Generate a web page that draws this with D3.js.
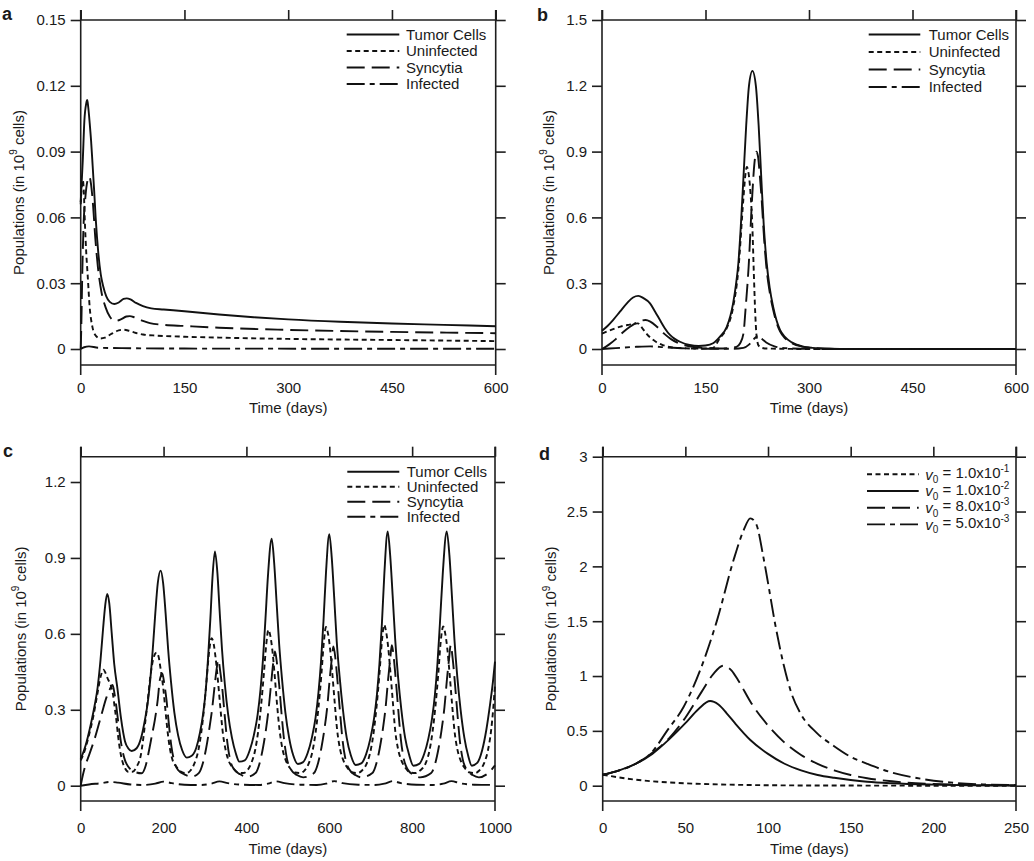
<!DOCTYPE html>
<html><head><meta charset="utf-8">
<script src="https://cdn.jsdelivr.net/npm/d3@7"></script>
<style>
body{margin:0;background:#fff}
svg{display:block}
text{font-family:"Liberation Sans",Arial,Helvetica,sans-serif;fill:#1a1a1a}
</style>
</head><body>
<svg id="chart" width="1034" height="861"></svg>
<script>
// ---------------- DATA ----------------
const seriesNames = ["Tumor Cells","Uninfected","Syncytia","Infected"];
const v0Mantissa = ["1.0","1.0","8.0","5.0"];
const v0Exponent = ["-1","-2","-3","-3"];

const aXTicks = [0,150,300,450,600];
const aYTicks = [0,0.03,0.06,0.09,0.12,0.15];
const aYLabels = ["0","0.03","0.06","0.09","0.12","0.15"];
const aTumor = [[0,0.067],[3,0.086],[5.3,0.104],[8,0.112],[9.5,0.1135],[11,0.110],[13,0.103],[15,0.095],[17,0.085],[19.5,0.072],[21.6,0.06],[25.5,0.0436],[29,0.034],[32.7,0.0284],[37,0.024],[42,0.0215],[48.6,0.0205],[55,0.0212],[62,0.0228],[66.5,0.0231],[72,0.0226],[80,0.021],[90,0.0195],[102,0.0185],[120,0.018],[150,0.0172],[200,0.0157],[250,0.0145],[300,0.0135],[375,0.0124],[450,0.0116],[525,0.011],[600,0.0104]];
const aUninf = [[0,0.066],[1.5,0.074],[3,0.077],[4.5,0.072],[6,0.058],[8,0.044],[10,0.034],[13,0.019],[17,0.01],[22,0.006],[28,0.0048],[35,0.0052],[45,0.007],[55,0.0085],[62,0.0088],[70,0.0083],[80,0.0073],[90,0.0066],[110,0.0061],[150,0.0056],[200,0.0052],[300,0.0046],[450,0.0041],[600,0.0036]];
const aSync = [[0,0],[1,0.012],[2,0.03],[4,0.055],[7,0.07],[10,0.077],[12.5,0.0786],[15,0.075],[18,0.065],[21,0.051],[25,0.037],[30,0.026],[36,0.019],[42,0.0148],[50,0.0128],[58,0.0135],[66,0.0148],[71,0.015],[78,0.0144],[90,0.0128],[100,0.0118],[120,0.011],[150,0.0105],[200,0.0097],[300,0.0087],[450,0.0078],[600,0.0072]];
const aInf = [[0,0],[5,0.0008],[12,0.0012],[25,0.0006],[60,0.0004],[150,0.0002],[600,0.0001]];

const bXTicks = [0,150,300,450,600];
const bYTicks = [0,0.3,0.6,0.9,1.2,1.5];
const bYLabels = ["0","0.3","0.6","0.9","1.2","1.5"];
const bTumor = [[0,0.083],[8,0.105],[16,0.132],[26,0.17],[36,0.208],[45,0.235],[52.7,0.242],[60,0.232],[69.6,0.208],[77,0.17],[84,0.132],[91,0.095],[98.5,0.064],[106,0.045],[113,0.033],[127,0.018],[140,0.014],[150,0.016],[161,0.026],[171,0.056],[180.7,0.10],[186,0.15],[190,0.208],[194,0.29],[197.6,0.39],[201,0.55],[204.8,0.77],[209,1.02],[213,1.2],[218,1.268],[223,1.2],[227,1.02],[231,0.77],[234.5,0.56],[238.7,0.39],[243,0.28],[248,0.193],[253,0.13],[258,0.087],[265,0.055],[275,0.03],[290,0.012],[305,0.005],[330,0.001],[360,0],[600,0]];
const bUninf = [[0,0.07],[10,0.083],[20,0.095],[30,0.105],[40,0.111],[47,0.115],[52,0.117],[56,0.105],[60,0.088],[65,0.068],[70,0.052],[78,0.033],[88,0.018],[100,0.008],[115,0.004],[140,0.002],[160,0.004],[171,0.05],[180,0.09],[190,0.19],[197.6,0.36],[204.8,0.68],[208,0.8],[210,0.83],[212,0.81],[215,0.72],[218,0.55],[220,0.35],[222,0.17],[224,0.06],[227,0.015],[232,0.005],[240,0.002],[300,0],[600,0]];
const bSync = [[0,0],[10,0.02],[20,0.045],[30,0.075],[40,0.1],[50,0.12],[58,0.13],[63,0.132],[70,0.125],[80,0.1],[90,0.07],[100,0.045],[110,0.028],[120,0.017],[135,0.008],[150,0.004],[170,0.002],[185,0.004],[195,0.01],[200,0.025],[205,0.07],[208,0.18],[212.5,0.375],[217.4,0.68],[221,0.85],[223.7,0.9],[226,0.88],[229,0.78],[231,0.7],[235,0.5],[238.7,0.36],[243,0.26],[248,0.18],[253,0.12],[258,0.08],[265,0.05],[275,0.027],[290,0.011],[305,0.005],[330,0.001],[360,0],[600,0]];
const bInf = [[0,0],[20,0.004],[50,0.01],[70,0.012],[90,0.008],[120,0.003],[150,0.001],[190,0.001],[205,0.005],[213,0.02],[220,0.045],[225.6,0.058],[230,0.05],[238,0.03],[250,0.012],[265,0.004],[290,0.001],[320,0],[600,0]];

const cXTicks = [0,200,400,600,800,1000];
const cYTicks = [0,0.3,0.6,0.9,1.2];
const cYLabels = ["0","0.3","0.6","0.9","1.2"];
const cTumor = [[0,0.105],[12,0.16],[24,0.24],[34,0.32],[41,0.39],[48,0.5],[54,0.62],[59,0.71],[64,0.758],[69,0.72],[75,0.6],[81,0.48],[89,0.38],[97,0.27],[107,0.175],[115,0.147],[123,0.137],
[135,0.148],[146,0.19],[155,0.26],[162,0.33],[168,0.42],[174,0.54],[180,0.68],[186,0.8],[193,0.85],[199,0.8],[205,0.68],[211,0.54],[218,0.41],[226,0.29],[235,0.2],[245,0.14],[256,0.111],
[268,0.118],[279,0.15],[288,0.21],[296,0.29],[302,0.38],[308,0.52],[313,0.66],[318,0.82],[324,0.926],[330,0.84],[335,0.7],[341,0.54],[348,0.4],[356,0.28],[365,0.19],[374,0.13],[383,0.095],
[396,0.1],[408,0.14],[418,0.2],[427,0.28],[434,0.38],[440,0.5],[446,0.66],[452,0.83],[461,0.976],[467,0.88],[473,0.72],[479,0.56],[486,0.42],[494,0.29],[503,0.19],[513,0.12],[524,0.086],
[536,0.092],[548,0.13],[558,0.19],[567,0.27],[574,0.37],[580,0.49],[586,0.65],[592,0.84],[600,0.994],[606,0.9],[612,0.74],[618,0.57],[625,0.43],[633,0.3],[642,0.19],[652,0.12],[664,0.082],
[677,0.088],[689,0.125],[699,0.185],[708,0.265],[715,0.36],[721,0.48],[727,0.64],[733,0.84],[741,1.005],[747,0.91],[753,0.75],[759,0.58],[766,0.43],[774,0.3],[783,0.19],[793,0.12],[803,0.079],
[817,0.086],[829,0.125],[839,0.185],[848,0.265],[855,0.36],[861,0.48],[867,0.64],[874,0.84],[883.5,1.005],[890,0.91],[896,0.75],[902,0.58],[909,0.43],[917,0.3],[926,0.19],[935,0.12],[944,0.079],
[957,0.09],[969,0.14],[979,0.22],[988,0.32],[995,0.41],[1000,0.49]];
const cUninf = [[0,0.1],[10,0.14],[20,0.2],[30,0.27],[40,0.36],[48,0.43],[55,0.458],[60,0.445],[66,0.42],[72,0.4],[78,0.36],[82,0.31],[86,0.26],[90,0.2],[95,0.14],[100,0.1],[107,0.069],[115,0.055],[125,0.055],[135,0.075],
[145,0.12],[155,0.24],[162,0.34],[168,0.43],[175,0.5],[183,0.526],[188,0.51],[193,0.46],[199,0.39],[205,0.29],[210,0.21],[215,0.15],[222,0.1],[231,0.075],[243,0.055],[255,0.05],[265,0.06],
[275,0.09],[284,0.14],[291,0.21],[298,0.31],[304,0.42],[310,0.53],[316,0.583],[321,0.56],[326,0.5],[331,0.42],[337,0.31],[343,0.21],[350,0.14],[358,0.095],[368,0.07],[380,0.052],[392,0.05],[402,0.06],
[412,0.09],[421,0.14],[428,0.21],[435,0.31],[442,0.44],[448,0.56],[453,0.616],[458,0.59],[463,0.53],[468,0.44],[474,0.32],[480,0.22],[487,0.145],[495,0.1],[505,0.07],[517,0.052],[530,0.05],[540,0.06],
[551,0.09],[560,0.14],[567,0.21],[574,0.31],[581,0.44],[587,0.57],[592,0.627],[597,0.6],[602,0.54],[607,0.45],[613,0.33],[619,0.22],[626,0.145],[634,0.1],[644,0.07],[656,0.052],[669,0.05],[679,0.06],
[691,0.09],[700,0.14],[707,0.21],[714,0.31],[721,0.44],[727,0.57],[732.5,0.636],[737,0.61],[742,0.55],[747,0.46],[753,0.34],[759,0.22],[766,0.145],[774,0.1],[784,0.07],[796,0.052],[809,0.05],[819,0.06],
[833,0.09],[842,0.14],[849,0.21],[856,0.31],[863,0.44],[869,0.57],[875,0.629],[880,0.6],[885,0.54],[890,0.45],[896,0.33],[902,0.22],[909,0.145],[917,0.1],[927,0.07],[939,0.052],[952,0.05],[962,0.06],
[974,0.09],[983,0.14],[990,0.21],[996,0.31],[1000,0.4]];
const cSync = [[0,0],[5,0.04],[10.4,0.075],[20,0.12],[34.5,0.19],[50,0.28],[62.8,0.352],[70,0.38],[77,0.398],[82,0.36],[87,0.3],[93,0.22],[99,0.154],[107,0.1],[115,0.075],[130,0.055],[147,0.049],
[157,0.08],[165,0.14],[172,0.2],[179,0.26],[186,0.34],[191,0.418],[197,0.444],[202,0.4],[207,0.34],[213,0.24],[219,0.154],[227,0.09],[235,0.062],[250,0.045],[268,0.036],
[285,0.05],[295,0.09],[303,0.15],[310,0.22],[317,0.3],[323,0.39],[328,0.46],[332,0.497],[337,0.45],[342,0.38],[348,0.27],[354,0.17],[361,0.1],[370,0.065],[385,0.045],[400,0.035],
[422,0.05],[432,0.09],[440,0.15],[447,0.22],[454,0.31],[460,0.41],[465,0.49],[469,0.53],[474,0.48],[479,0.4],[485,0.28],[491,0.18],[498,0.105],[507,0.065],[522,0.042],[537,0.033],
[563,0.05],[573,0.09],[581,0.15],[588,0.22],[595,0.31],[601,0.42],[606,0.5],[610,0.55],[615,0.5],[620,0.41],[626,0.29],[632,0.18],[639,0.105],[648,0.065],[663,0.042],[678,0.033],
[704,0.05],[714,0.09],[722,0.15],[729,0.22],[736,0.31],[742,0.42],[747,0.5],[751,0.555],[756,0.5],[761,0.41],[767,0.29],[773,0.18],[780,0.105],[789,0.065],[804,0.042],[819,0.033],
[846,0.05],[856,0.09],[864,0.15],[871,0.22],[878,0.31],[884,0.42],[889,0.5],[893,0.555],[898,0.5],[903,0.41],[909,0.29],[915,0.18],[922,0.105],[931,0.065],[946,0.042],[961,0.033],
[980,0.045],[1000,0.08]];
const cInf = [[0,0],[20,0.005],[50,0.01],[70,0.015],[90,0.012],[120,0.005],[150,0.003],[180,0.008],[200,0.016],[220,0.01],[250,0.004],[290,0.003],[315,0.008],[335,0.017],[355,0.01],[390,0.004],[430,0.003],[452,0.008],[472,0.017],[492,0.01],[530,0.004],[570,0.003],[592,0.008],[612,0.018],[632,0.01],[670,0.004],[710,0.003],[733,0.008],[753,0.018],[773,0.01],[810,0.004],[850,0.003],[875,0.008],[895,0.018],[915,0.01],[950,0.004],[1000,0.003]];

const dXTicks = [0,50,100,150,200,250];
const dYTicks = [0,0.5,1,1.5,2,2.5,3];
const dYLabels = ["0","0.5","1","1.5","2","2.5","3"];
const dV1 = [[0,0.1],[10,0.075],[20,0.055],[30,0.04],[40,0.03],[50,0.022],[60,0.016],[75,0.01],[90,0.006],[110,0.003],[130,0.002],[160,0.001],[200,0],[250,0]];
const dV2 = [[0,0.1],[10,0.14],[20,0.2],[30,0.29],[40,0.42],[50,0.57],[58,0.7],[65,0.772],[70,0.74],[75,0.66],[80,0.57],[89.3,0.417],[100,0.29],[110,0.2],[120,0.14],[130,0.098],[140,0.072],[150,0.052],[160,0.036],[175,0.022],[200,0.01],[225,0.004],[250,0.002]];
const dV3 = [[0,0.1],[10,0.14],[20,0.2],[30,0.3],[40,0.43],[50,0.62],[60,0.86],[67,1.02],[72.8,1.094],[78,1.05],[82,0.96],[90,0.75],[99.4,0.56],[109.5,0.4],[120,0.28],[130,0.2],[140,0.14],[150,0.098],[160,0.068],[175,0.04],[200,0.016],[225,0.006],[250,0.003]];
const dV4 = [[0,0.1],[10,0.14],[20,0.2],[30,0.31],[38.9,0.5],[49,0.72],[59,1.055],[69.2,1.51],[79.2,2.06],[85,2.32],[89.3,2.438],[93,2.38],[97,2.1],[100,1.85],[104,1.5],[109.5,1.1],[114,0.85],[119.6,0.66],[129.6,0.48],[140,0.36],[149.8,0.265],[160,0.2],[170,0.143],[190,0.07],[210,0.03],[230,0.012],[250,0.005]];

// ---------------- DRAWING ----------------
const svg = d3.select("#chart");
const dashes = {solid:null, short:"5,3.5", long:"18,7", dashdot:"18,5,5,5"};
const INK = "#111";
const FRAME = "#1e1e1e";
const FW = 1.6;

function drawPanel(p){
  const x = d3.scaleLinear().domain([p.xTicks[0], p.xTicks[p.xTicks.length-1]]).range([p.left, p.right]);
  const y = d3.scaleLinear().domain([0, p.yTop]).range([p.zeroY, p.topY]);
  const g = svg.append("g").attr("font-size",15);

  // frame
  const fr = g.append("g").attr("stroke",FRAME).attr("stroke-width",FW).attr("fill","none");
  fr.append("line").attr("x1",p.left).attr("x2",p.right).attr("y1",p.topY).attr("y2",p.topY);
  fr.append("line").attr("x1",p.left).attr("x2",p.right).attr("y1",p.bottom).attr("y2",p.bottom);
  fr.append("line").attr("x1",p.left).attr("x2",p.left).attr("y1",p.topY-10).attr("y2",p.bottom+10);
  fr.append("line").attr("x1",p.right).attr("x2",p.right).attr("y1",p.topY-10).attr("y2",p.bottom+10);

  // left axis
  const ax = g.append("g").attr("transform",`translate(${p.left},0)`)
    .call(d3.axisLeft(y).tickValues(p.yTicks).tickSize(10).tickPadding(5).tickFormat((d,i)=>p.yLabels[i]));
  ax.select(".domain").remove();
  ax.selectAll("line").attr("stroke",FRAME).attr("stroke-width",FW);
  ax.selectAll("text").attr("font-size",15).attr("font-family",'"Liberation Sans",Arial,sans-serif').attr("fill","#1a1a1a");
  // right ticks
  const ar = g.append("g").attr("transform",`translate(${p.right},0)`)
    .call(d3.axisRight(y).tickValues(p.yTicks).tickSize(10).tickFormat(""));
  ar.select(".domain").remove();
  ar.selectAll("line").attr("stroke",FRAME).attr("stroke-width",FW);
  // top ticks
  const at = g.append("g").attr("transform",`translate(0,${p.topY})`)
    .call(d3.axisTop(x).tickValues(p.xTicks).tickSize(10).tickFormat(""));
  at.select(".domain").remove();
  at.selectAll("line").attr("stroke",FRAME).attr("stroke-width",FW);
  // bottom labels
  const ab = g.append("g").attr("transform",`translate(0,${p.bottom})`)
    .call(d3.axisBottom(x).tickValues(p.xTicks).tickSize(0).tickPadding(p.xPad).tickFormat(d3.format("d")));
  ab.select(".domain").remove();
  ab.selectAll("text").attr("font-size",15).attr("font-family",'"Liberation Sans",Arial,sans-serif').attr("fill","#1a1a1a");

  // axis titles
  g.append("text").attr("x",(p.left+p.right)/2).attr("y",p.bottom+p.titleDy)
    .attr("text-anchor","middle").attr("font-size",15).text("Time (days)");
  const yl = g.append("text").attr("transform",`translate(${p.left+p.ylabDx},${(p.topY+p.bottom)/2}) rotate(-90)`)
    .attr("text-anchor","middle").attr("dy","0.35em").attr("font-size",15);
  yl.append("tspan").text("Populations (in 10");
  yl.append("tspan").attr("font-size",10).attr("dy","-0.65em").text("9");
  yl.append("tspan").attr("dy","0.42em").text(" cells)");

  // panel letter
  g.append("text").attr("x",p.letterX).attr("y",p.letterY).attr("font-size",18)
    .attr("font-weight","bold").text(p.letter);

  // series
  const line = d3.line().x(d=>x(d[0])).y(d=>y(d[1])).curve(d3.curveMonotoneX);
  p.series.forEach(s=>{
    g.append("path").datum(s.data).attr("d",line).attr("fill","none")
      .attr("stroke",INK).attr("stroke-width",1.9)
      .attr("stroke-dasharray",dashes[s.style]);
  });

  // legend
  const lg = g.append("g");
  p.legend.forEach((item,i)=>{
    const cy = p.legY + i*p.legStep;
    lg.append("line").attr("x1",p.legX1).attr("x2",p.legX2).attr("y1",cy).attr("y2",cy)
      .attr("stroke",INK).attr("stroke-width",1.9).attr("stroke-dasharray",dashes[item.style]);
    const t = lg.append("text").attr("x",p.legTx).attr("y",cy+5.3).attr("font-size",15);
    item.render(t);
  });
}

const styles4 = ["solid","short","long","dashdot"];
const legend4 = seriesNames.map((n,i)=>({style:styles4[i], render:t=>t.text(n)}));
const dStyles = ["short","solid","long","dashdot"];
const legendD = v0Mantissa.map((m,i)=>({style:dStyles[i], render:t=>{
  t.append("tspan").attr("font-style","italic").text("v");
  t.append("tspan").attr("font-size",10).attr("dy","0.35em").text("0");
  t.append("tspan").attr("dy","-0.35em").text(" = " + m + "x10");
  t.append("tspan").attr("font-size",10).attr("dy","-0.6em").text(v0Exponent[i]);
}}));

drawPanel({letter:"a", letterX:2, letterY:20, left:80.7, right:495.7, topY:20, zeroY:349, bottom:365, yTop:0.15,
  xTicks:aXTicks, yTicks:aYTicks, yLabels:aYLabels, xPad:17, titleDy:48, ylabDx:-62,
  series:[{data:aTumor,style:"solid"},{data:aUninf,style:"short"},{data:aSync,style:"long"},{data:aInf,style:"dashdot"}],
  legend:legend4, legX1:346.7, legX2:399.3, legTx:406, legY:34.5, legStep:16.5});
drawPanel({letter:"b", letterX:537, letterY:21, left:602, right:1016, topY:20, zeroY:349, bottom:365, yTop:1.5,
  xTicks:bXTicks, yTicks:bYTicks, yLabels:bYLabels, xPad:17, titleDy:48, ylabDx:-53.5,
  series:[{data:bTumor,style:"solid"},{data:bUninf,style:"short"},{data:bSync,style:"long"},{data:bInf,style:"dashdot"}],
  legend:legend4, legX1:868.7, legX2:920.3, legTx:928.7, legY:34.5, legStep:17.5});
drawPanel({letter:"c", letterX:3, letterY:457, left:80.7, right:495, topY:456.7, zeroY:785.7, bottom:801, yTop:1.3,
  xTicks:cXTicks, yTicks:cYTicks, yLabels:cYLabels, xPad:21, titleDy:52.5, ylabDx:-60,
  series:[{data:cTumor,style:"solid"},{data:cUninf,style:"short"},{data:cSync,style:"long"},{data:cInf,style:"dashdot"}],
  legend:legend4, legX1:347.3, legX2:399.3, legTx:406.7, legY:471.7, legStep:15});
drawPanel({letter:"d", letterX:539, letterY:460, left:602.7, right:1016, topY:456.7, zeroY:785.7, bottom:801, yTop:3,
  xTicks:dXTicks, yTicks:dYTicks, yLabels:dYLabels, xPad:21, titleDy:52.5, ylabDx:-51.7,
  series:[{data:dV1,style:"short"},{data:dV2,style:"solid"},{data:dV3,style:"long"},{data:dV4,style:"dashdot"}],
  legend:legendD, legX1:867, legX2:918.7, legTx:925.3, legY:474.3, legStep:16.7});
</script>
</body></html>
